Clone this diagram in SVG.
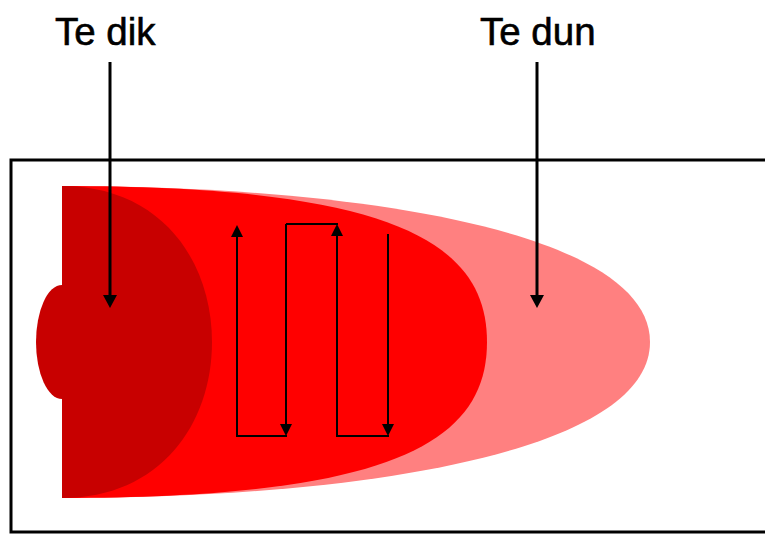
<svg xmlns="http://www.w3.org/2000/svg" width="765" height="534" viewBox="0 0 765 534">
  <style>
    .label { font-family: "Liberation Sans", Arial, sans-serif; font-size: 38.5px; font-weight: normal; fill: #000; stroke: #000; stroke-width: 0.6; }
    .thick { stroke: #000; stroke-width: 3; fill: none; }
    .thin { stroke: #000; stroke-width: 2; fill: none; }
    .pink { fill: #FF8080; }
    .red { fill: #FF0000; }
    .dark { fill: #C80000; }
  </style>
  <defs>
    <marker id="bigArrow" markerUnits="userSpaceOnUse" markerWidth="14" markerHeight="14" viewBox="0 0 14 14" refX="1" refY="7" orient="auto">
      <path d="M0,0 L13,7 L0,14 z" fill="#000"/>
    </marker>
    <marker id="smallArrow" markerUnits="userSpaceOnUse" markerWidth="12" markerHeight="12" viewBox="0 0 12 12" refX="1" refY="6" orient="auto">
      <path d="M0,0 L12,6 L0,12 z" fill="#000"/>
    </marker>
  </defs>
  <rect width="765" height="534" fill="#fff"/>

  <g id="box">
    <path class="thick" d="M768,160 H11 V532 H768"/>
  </g>

  <g id="zone-te-dun">
    <path class="pink" d="M62,186 C362,186 650,232 650,342 C650,452 362,498 62,498 Z"/>
  </g>

  <g id="zone-red">
    <path class="red" d="M62,186 C392,186 487,242 487,342 C487,442 392,498 62,498 Z"/>
  </g>

  <g id="zone-te-dik">
    <path class="dark" d="M62,186 C160,186 212,260 212,342 C212,424 160,498 62,498 Z"/>
    <ellipse class="dark" cx="62" cy="342" rx="26" ry="57"/>
  </g>

  <g id="label-te-dik">
    <text class="label" x="55" y="45">Te dik</text>
  </g>

  <g id="label-te-dun">
    <text class="label" x="480" y="45">Te dun</text>
  </g>

  <g id="connectors">
    <line class="thick" x1="110" y1="62" x2="110" y2="296" marker-end="url(#bigArrow)"/>
    <line class="thick" x1="537" y1="62" x2="537" y2="296" marker-end="url(#bigArrow)"/>

    <path class="thin" d="M237,436 H287 M286,224 H338 M337,436 H389"/>
    <line class="thin" x1="237" y1="437" x2="237" y2="236" marker-end="url(#smallArrow)"/>
    <line class="thin" x1="286" y1="224" x2="286" y2="425" marker-end="url(#smallArrow)"/>
    <line class="thin" x1="337" y1="437" x2="337" y2="235" marker-end="url(#smallArrow)"/>
    <line class="thin" x1="388" y1="234" x2="388" y2="425" marker-end="url(#smallArrow)"/>
  </g>
</svg>
